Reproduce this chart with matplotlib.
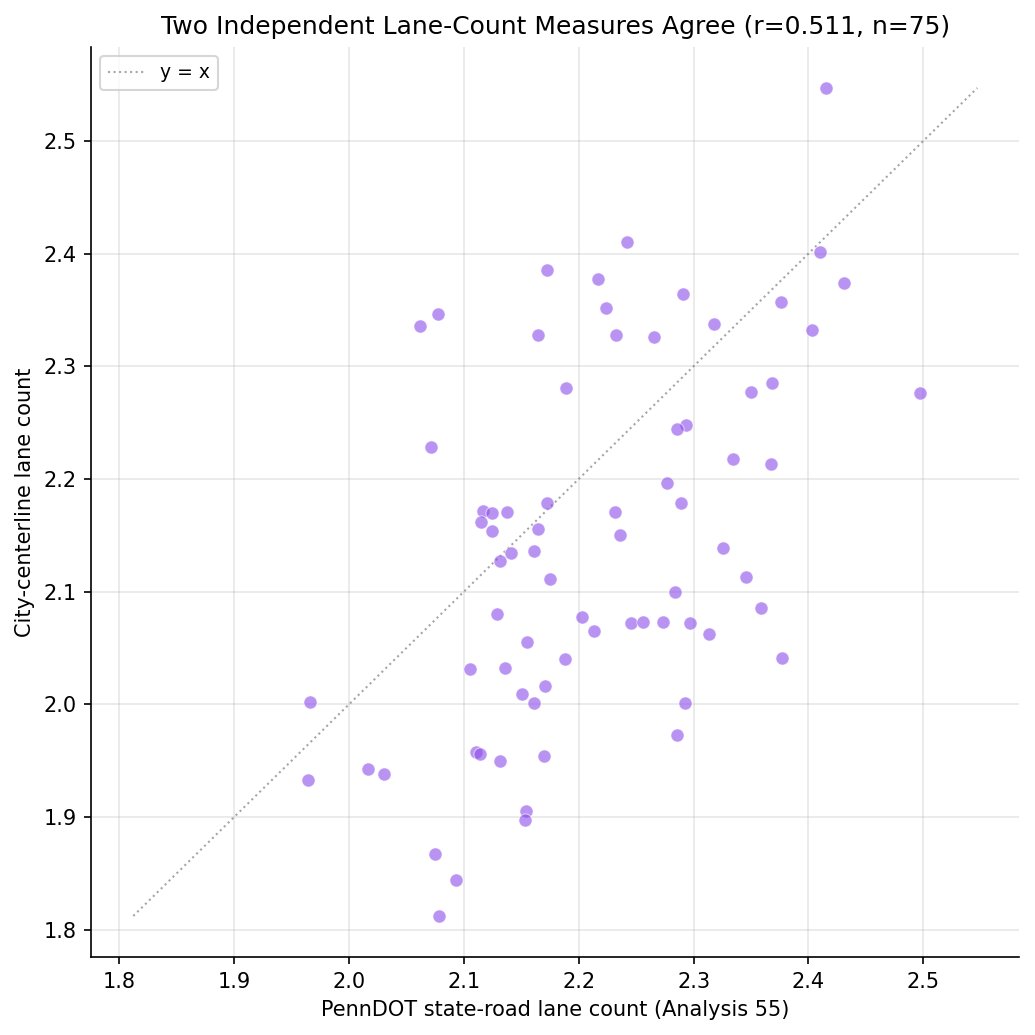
import numpy as np
import matplotlib
matplotlib.use("Agg")
import matplotlib.pyplot as plt

# PennDOT lane counts (x) vs city centerline lane counts (y)
penndot = [2.4155, 2.2418, 2.4102, 2.431, 2.3764, 2.4033, 2.3174, 2.2905, 2.2167, 2.1724,
           2.2236, 2.2323, 2.1646, 2.0778, 2.0622, 2.2653, 2.1889, 2.0717, 2.3504, 2.3686,
           2.4970, 2.2931, 2.2858, 2.3347, 2.3677, 2.2766, 2.2887, 2.2314, 2.2358, 2.3260,
           2.346, 2.3588, 2.2835, 2.2459, 2.2557, 2.2731, 2.2965, 2.3130, 2.377, 2.2922,
           2.2853, 2.1313, 2.175, 2.129, 2.2025, 2.2129, 2.1548, 2.188, 2.1053, 2.1359,
           2.1704, 2.1507, 2.1612, 1.9658, 1.9641, 2.0168, 2.0309, 2.1105, 2.1143, 2.1316,
           2.1695, 2.1539, 2.1533, 2.0752, 2.0934, 2.0786, 2.1166, 2.1247, 2.1374, 2.1151,
           2.1247, 2.1724, 2.1646, 2.1609, 2.1411]
city = [2.547, 2.410, 2.4014, 2.374, 2.357, 2.332, 2.3375, 2.364, 2.3777, 2.3854,
        2.3517, 2.3278, 2.3278, 2.3464, 2.3358, 2.3258, 2.2808, 2.2284, 2.2772, 2.2852,
        2.2763, 2.2479, 2.2444, 2.2177, 2.2133, 2.1964, 2.1787, 2.1707, 2.1503, 2.1388,
        2.113, 2.0858, 2.0999, 2.0722, 2.0731, 2.0731, 2.0722, 2.0627, 2.0412, 2.0015,
        1.9728, 2.1275, 2.1113, 2.0802, 2.0776, 2.0654, 2.0554, 2.0403, 2.0314, 2.0323,
        2.0163, 2.0092, 2.0012, 2.0021, 1.9329, 1.9427, 1.9382, 1.9578, 1.9563, 1.9498,
        1.9542, 1.9057, 1.8974, 1.8673, 1.8442, 1.8122, 2.1719, 2.1698, 2.1707, 2.1618,
        2.1539, 2.1787, 2.1556, 2.1361, 2.1343]

x = np.array(penndot)
y = np.array(city)
r = np.corrcoef(x, y)[0, 1]

fig, ax = plt.subplots(figsize=(6.9, 6.9), dpi=150)
fig.subplots_adjust(left=0.088, right=0.985, bottom=0.075, top=0.955)

ax.scatter(x, y, s=40, color="#8b4ce8", alpha=0.6, edgecolor="white", linewidth=0.5, zorder=3)

lo = min(x.min(), y.min())
hi = max(x.max(), y.max())
ax.plot([lo, hi], [lo, hi], linestyle=":", color="gray", linewidth=1, alpha=0.7, label="y = x")

ax.set_xlabel("PennDOT state-road lane count (Analysis 55)")
ax.set_ylabel("City-centerline lane count")
ax.set_title(f"Two Independent Lane-Count Measures Agree (r={r:.3f}, n={len(x)})", fontsize=12)
ax.grid(True, alpha=0.3)
ax.spines["top"].set_visible(False)
ax.spines["right"].set_visible(False)
ax.legend(loc="upper left", fontsize=9)

fig.savefig("out.png", dpi=150)
